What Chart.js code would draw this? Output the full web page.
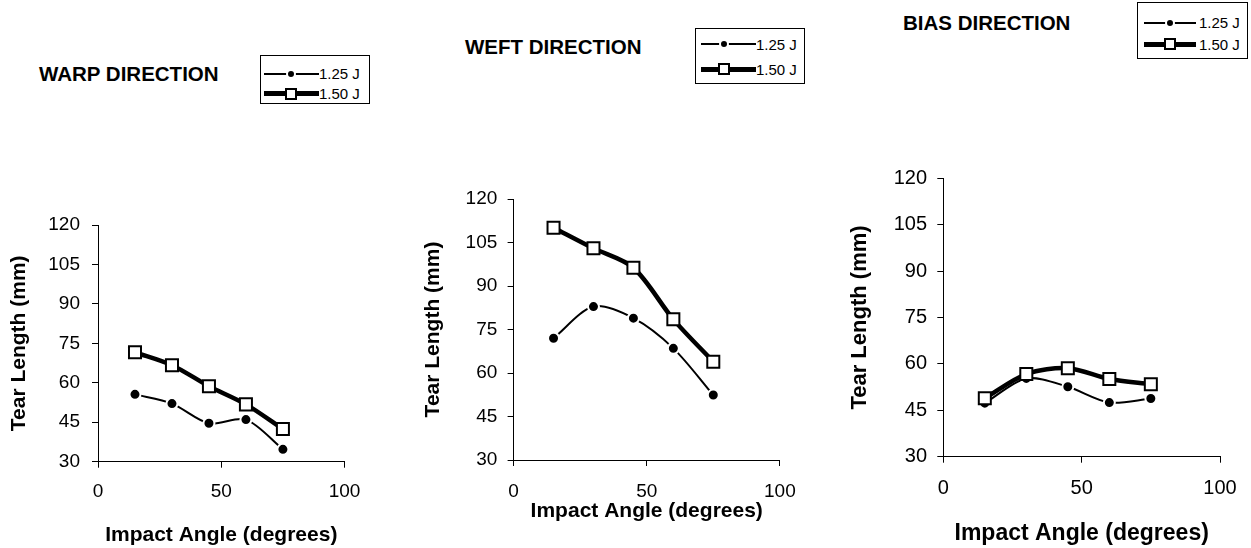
<!DOCTYPE html>
<html>
<head>
<meta charset="utf-8">
<script src="https://cdn.jsdelivr.net/npm/chart.js@4"></script>
<style>
	body { margin: 0; background: #fff; width: 1251px; height: 548px; position: relative; overflow: hidden; font-family: "Liberation Sans", Arial, sans-serif; }
	canvas { position: absolute; }
	.ttl { position: absolute; font-weight: bold; font-size: 20.5px; line-height: 20.5px; white-space: nowrap; color: #000; }
	.lg { position: absolute; border: 1px solid #000; background: #fff; box-sizing: border-box; }
	.lg .ln { position: absolute; background: #000; }
	.lg .dot { position: absolute; width: 6px; height: 6px; border-radius: 50%; background: #000; border: 2px solid #fff; }
	.lg .sq { position: absolute; width: 8px; height: 8px; border: 2px solid #000; background: #fff; }
	.lg .tx { position: absolute; font-size: 15px; line-height: 15px; white-space: nowrap; }
</style>
</head>
<body>

<div class="ttl" style="left:39px; top:63.5px;">WARP DIRECTION</div>
<div class="ttl" style="left:465px; top:36.7px;">WEFT DIRECTION</div>
<div class="ttl" style="left:903px; top:12.5px;">BIAS DIRECTION</div>

<div id="lg-warp" class="lg" style="left:260px; top:55px; width:110px; height:49px;"></div>
<div id="lg-weft" class="lg" style="left:695px; top:28px; width:110px; height:56px;"></div>
<div id="lg-bias" class="lg" style="left:1137px; top:2px; width:111px; height:57px;"></div>

<canvas id="chart-warp" width="373" height="348" style="left:0px; top:200px;"></canvas>
<canvas id="chart-weft" width="393" height="356" style="left:416.7px; top:170px;"></canvas>
<canvas id="chart-bias" width="407" height="398" style="left:843px; top:150px;"></canvas>

<script>
'use strict';

// Impact angle (degrees)
const angles = [15, 30, 45, 60, 75];

// Tear length (mm)
const warp125 = [55.6, 52.1, 44.6, 46.0, 34.7];
const warp150 = [71.6, 66.7, 58.7, 51.8, 42.4];
const weft125 = [72.0, 82.9, 78.9, 68.5, 52.4];
const weft150 = [110.1, 103.0, 96.3, 78.5, 63.9];
const bias125 = [47.3, 55.3, 52.6, 47.5, 48.8];
const bias150 = [48.9, 56.7, 58.6, 55.1, 53.4];

const seriesLabels = ['1.25 J', '1.50 J'];
const yTicks = [30, 45, 60, 75, 90, 105, 120];
const xTicks = [0, 50, 100];
const xTitle = 'Impact Angle (degrees)';
const yTitle = 'Tear Length (mm)';

Chart.defaults.font.family = '"Liberation Sans", Arial, sans-serif';
Chart.defaults.color = '#000';

function toPoints(ys) {
	return angles.map((a, i) => ({ x: a, y: ys[i] }));
}

function buildLegend(id, lay) {
	const box = document.getElementById(id);
	let html = '';
	// row 1 : thin line + dot
	html += '<div class="ln" style="left:' + lay.lx + 'px; width:' + lay.lw + 'px; top:' + (lay.r1 - 1) + 'px; height:2px;"></div>';
	html += '<div class="dot" style="left:' + (lay.mx - 5) + 'px; top:' + (lay.r1 - 5) + 'px;"></div>';
	html += '<div class="tx" style="left:' + lay.tx + 'px; top:' + (lay.r1 - 7.3) + 'px;">' + seriesLabels[0] + '</div>';
	// row 2 : thick line + open square
	html += '<div class="ln" style="left:' + lay.lx + 'px; width:' + lay.lw + 'px; top:' + (lay.r2 - 2.5) + 'px; height:5px;"></div>';
	html += '<div class="sq" style="left:' + (lay.mx - 6) + 'px; top:' + (lay.r2 - 6) + 'px;"></div>';
	html += '<div class="tx" style="left:' + lay.tx + 'px; top:' + (lay.r2 - 7.3) + 'px;">' + seriesLabels[1] + '</div>';
	box.innerHTML = html;
}

function makeChart(id, low, high, lay) {
	const ctx = document.getElementById(id);
	return new Chart(ctx, {
		type: 'line',
		data: {
			datasets: [
				{
					label: seriesLabels[0],
					data: toPoints(low),
					borderColor: '#000',
					borderWidth: 2,
					pointRadius: 5.5,
					pointBackgroundColor: '#000',
					pointBorderColor: '#fff',
					pointBorderWidth: 2,
					tension: 0.3,
					order: 1
				},
				{
					label: seriesLabels[1],
					data: toPoints(high),
					borderColor: '#000',
					borderWidth: 4.5,
					pointStyle: 'rect',
					pointRadius: 8.5,
					pointBackgroundColor: '#fff',
					pointBorderColor: '#000',
					pointBorderWidth: 2,
					tension: 0.3,
					order: 0
				}
			]
		},
		options: {
			responsive: false,
			animation: false,
			devicePixelRatio: 1,
			layout: {
				padding: { top: lay.padTop, right: 25, left: 0, bottom: 0 }
			},
			plugins: {
				legend: { display: false },
				tooltip: { enabled: false }
			},
			scales: {
				x: {
					type: 'linear',
					min: 0,
					max: 100,
					afterBuildTicks: s => { s.ticks = xTicks.map(v => ({ value: v })); },
					afterFit: s => { s.height = lay.xH; },
					grid: { drawOnChartArea: false, drawTicks: true, tickLength: 6, color: '#000' },
					border: { color: '#000', width: 1 },
					ticks: { font: { size: lay.tickSize }, padding: lay.xTickPad, maxRotation: 0 },
					title: {
						display: true,
						text: xTitle,
						font: { size: lay.xTitleSize, weight: 'bold' },
						padding: { top: 0, bottom: lay.xTitlePad }
					}
				},
				y: {
					type: 'linear',
					min: 30,
					max: 120,
					afterBuildTicks: s => { s.ticks = yTicks.map(v => ({ value: v })); },
					afterFit: s => { s.width = lay.yW; },
					grid: { drawOnChartArea: false, drawTicks: true, tickLength: 6, color: '#000' },
					border: { color: '#000', width: 1 },
					ticks: { font: { size: lay.tickSize }, padding: lay.yTickPad },
					title: {
						display: true,
						text: yTitle,
						font: { size: lay.yTitleSize, weight: 'bold' },
						padding: { top: lay.yTitlePad, bottom: 0 }
					}
				}
			}
		}
	});
}

makeChart('chart-warp', warp125, warp150, {
	padTop: 25, xH: 86.3, yW: 98, tickSize: 19, xTickPad: 12.6, yTickPad: 12,
	xTitleSize: 21, xTitlePad: 0.4, yTitleSize: 21, yTitlePad: 6.6
});
makeChart('chart-weft', weft125, weft150, {
	padTop: 29, xH: 66, yW: 96.6, tickSize: 19, xTickPad: 14.3, yTickPad: 10.3,
	xTitleSize: 21, xTitlePad: 2, yTitleSize: 21, yTitlePad: 4
});
makeChart('chart-bias', bias125, bias150, {
	padTop: 28.3, xH: 91.3, yW: 100.3, tickSize: 20, xTickPad: 13.3, yTickPad: 10.3,
	xTitleSize: 23, xTitlePad: 0.2, yTitleSize: 22, yTitlePad: 4
});

buildLegend('lg-warp', { lx: 3, lw: 55, mx: 30, tx: 58, r1: 17.7, r2: 37.7 });
buildLegend('lg-weft', { lx: 5, lw: 55, mx: 28, tx: 60, r1: 15.3, r2: 40.3 });
buildLegend('lg-bias', { lx: 6, lw: 52, mx: 32, tx: 61, r1: 19.7, r2: 41.3 });
</script>
</body>
</html>
